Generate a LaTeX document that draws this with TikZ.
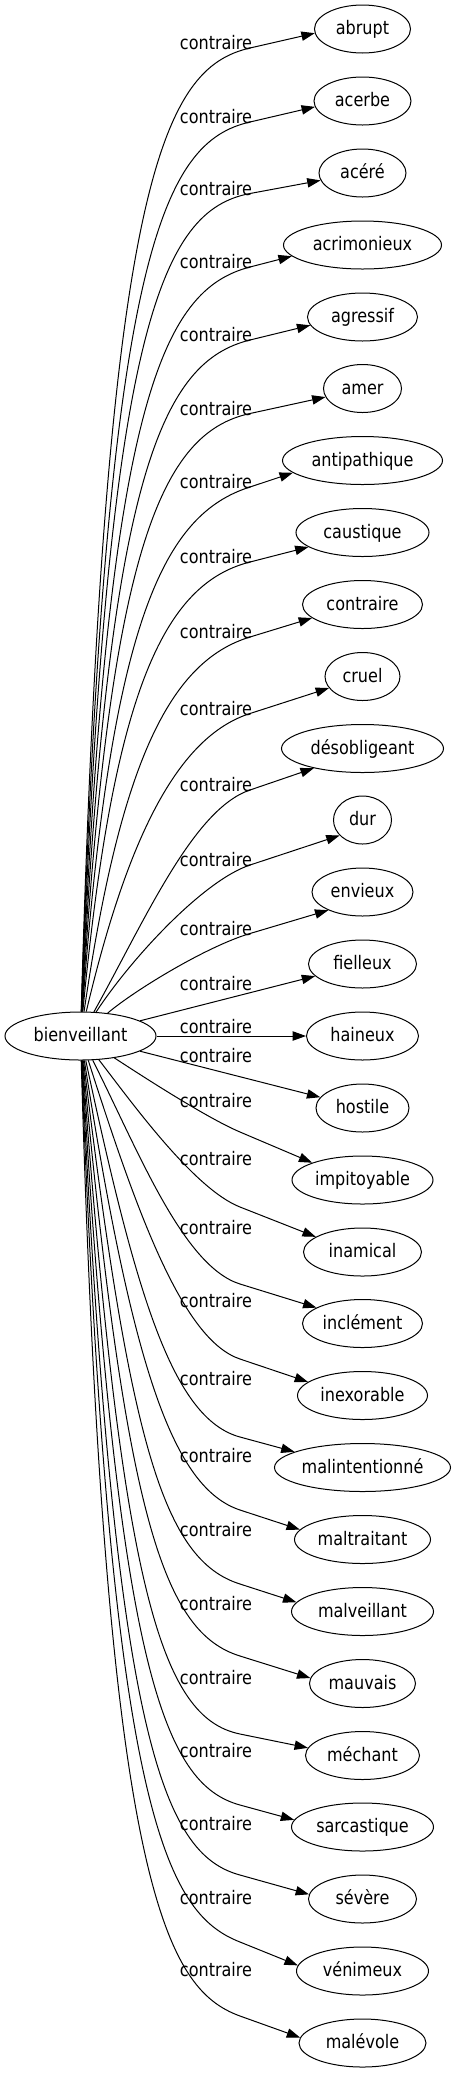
\documentclass[tikz,border=0pt]{standalone}
\usepackage{fontspec}
\setmainfont{DejaVu Sans}[FakeStretch=0.86]
\usetikzlibrary{arrows.meta, shapes.geometric}

\begin{document}
\begin{tikzpicture}[
	x=0.75pt, y=-0.75pt,
	w/.style = {ellipse, draw=black, line width=0.75pt, inner sep=0pt, minimum height=36pt,
		text height=10.6pt, text depth=2.2pt, font=\fontsize{14}{17}\selectfont},
	lb/.style = {inner sep=0pt, text height=10.6pt, text depth=2.2pt, font=\fontsize{14}{17}\selectfont},
	r/.style = {-{Triangle[length=10pt, width=7pt]}, line width=0.75pt}
	]
	\useasboundingbox (0,0) rectangle (462,2075);

	%Nodes
	\node[w, minimum width=113.25pt]	(b)					at	(80.5, 1036)	{bienveillant};
	\node[w, minimum width=72pt]		(abrupt)			at	(362.5, 29)		{abrupt};
	\node[w, minimum width=72.75pt]		(acerbe)			at	(362.5, 101)	{acerbe};
	\node[w, minimum width=65.25pt]		(acere)				at	(362.5, 173)	{acéré};
	\node[w, minimum width=118.5pt]		(acrimonieux)		at	(362.5, 245)	{acrimonieux};
	\node[w, minimum width=82.5pt]		(agressif)			at	(362.5, 317)	{agressif};
	\node[w, minimum width=58.5pt]		(amer)				at	(362.5, 388.5)	{amer};
	\node[w, minimum width=120pt]		(antipathique)		at	(362.5, 460.5)	{antipathique};
	\node[w, minimum width=99.75pt]		(caustique)			at	(362.5, 532.5)	{caustique};
	\node[w, minimum width=90pt]		(contraire)			at	(362.5, 604.5)	{contraire};
	\node[w, minimum width=56.25pt]		(cruel)				at	(362.5, 676.5)	{cruel};
	\node[w, minimum width=121.5pt]		(desobligeant)		at	(362.5, 748.5)	{désobligeant};
	\node[w, minimum width=43.5pt]		(dur)				at	(362.5, 820)	{dur};
	\node[w, minimum width=75.75pt]		(envieux)			at	(362.5, 892)	{envieux};
	\node[w, minimum width=81pt]		(fielleux)			at	(362.5, 964)	{fielleux};
	\node[w, minimum width=84pt]		(haineux)			at	(362.5, 1036)	{haineux};
	\node[w, minimum width=69.75pt]		(hostile)			at	(362.5, 1108)	{hostile};
	\node[w, minimum width=105.75pt]	(impitoyable)		at	(362.5, 1180)	{impitoyable};
	\node[w, minimum width=88.5pt]		(inamical)			at	(362.5, 1252)	{inamical};
	\node[w, minimum width=90pt]		(inclement)			at	(362.5, 1323.5)	{inclément};
	\node[w, minimum width=97.5pt]		(inexorable)		at	(362.5, 1395.5)	{inexorable};
	\node[w, minimum width=132pt]		(malintentionne)	at	(362.5, 1467.5)	{malintentionné};
	\node[w, minimum width=102pt]		(maltraitant)		at	(362.5, 1539.5)	{maltraitant};
	\node[w, minimum width=106.5pt]		(malveillant)		at	(362.5, 1611.5)	{malveillant};
	\node[w, minimum width=79.5pt]		(mauvais)			at	(362.5, 1683.5)	{mauvais};
	\node[w, minimum width=85.5pt]		(mechant)			at	(362.5, 1755.5)	{méchant};
	\node[w, minimum width=106.5pt]		(sarcastique)		at	(362.5, 1827)	{sarcastique};
	\node[w, minimum width=81pt]		(severe)			at	(362.5, 1899)	{sévère};
	\node[w, minimum width=99pt]		(venimeux)			at	(362.5, 1971)	{vénimeux};
	\node[w, minimum width=95.25pt]		(malevole)			at	(362.5, 2043)	{malévole};

	%Labels
	\node[lb]	(c-abrupt)			at	(216, 44)		{contraire};
	\node[lb]	(c-acerbe)			at	(216, 118)		{contraire};
	\node[lb]	(c-acere)			at	(216, 189.5)	{contraire};
	\node[lb]	(c-acrimonieux)		at	(216, 263)		{contraire};
	\node[lb]	(c-agressif)		at	(216, 336)		{contraire};
	\node[lb]	(c-amer)			at	(216, 409.5)	{contraire};
	\node[lb]	(c-antipathique)	at	(216, 483)		{contraire};
	\node[lb]	(c-caustique)		at	(216, 558)		{contraire};
	\node[lb]	(c-contraire)		at	(216, 633)		{contraire};
	\node[lb]	(c-cruel)			at	(216, 709.5)	{contraire};
	\node[lb]	(c-desobligeant)	at	(216, 786)		{contraire};
	\node[lb]	(c-dur)				at	(216, 861)		{contraire};
	\node[lb]	(c-envieux)			at	(216, 929.5)	{contraire};
	\node[lb]	(c-fielleux)		at	(216, 984.5)	{contraire};
	\node[lb]	(c-haineux)			at	(216, 1028)		{contraire};
	\node[lb]	(c-hostile)			at	(216, 1057)		{contraire};
	\node[lb]	(c-impitoyable)		at	(216, 1102)		{contraire};
	\node[lb]	(c-inamical)		at	(216, 1160)		{contraire};
	\node[lb]	(c-inclement)		at	(216, 1229)		{contraire};
	\node[lb]	(c-inexorable)		at	(216, 1302)		{contraire};
	\node[lb]	(c-malintentionne)	at	(216, 1380)		{contraire};
	\node[lb]	(c-maltraitant)		at	(216, 1457)		{contraire};
	\node[lb]	(c-malveillant)		at	(216, 1531)		{contraire};
	\node[lb]	(c-mauvais)			at	(216, 1605)		{contraire};
	\node[lb]	(c-mechant)			at	(216, 1679)		{contraire};
	\node[lb]	(c-sarcastique)		at	(216, 1752)		{contraire};
	\node[lb]	(c-severe)			at	(216, 1825)		{contraire};
	\node[lb]	(c-venimeux)		at	(216, 1899)		{contraire};
	\node[lb]	(c-malevole)		at	(216, 1971)		{contraire};

	%Lines
	\draw[r]	(b)	.. controls (105, 180) and (162.3, 68.2) .. (250, 48)			--	(abrupt.185);
	\draw[r]	(b)	.. controls (106, 254) and (162.3, 142.1) .. (250, 122)		--	(acerbe.187);
	\draw[r]	(b)	.. controls (107, 325.5) and (161.6, 210.3) .. (250, 193.5)	--	(acere.190);
	\draw[r]	(b)	.. controls (108, 399) and (162.9, 289.7) .. (250, 267)		--	(acrimonieux.189);
	\draw[r]	(b)	.. controls (109, 472) and (162.6, 361.6) .. (250, 340)		--	(agressif.189);
	\draw[r]	(b)	.. controls (110, 545.5) and (162.1, 432.6) .. (250, 413.5)	--	(amer.193);
	\draw[r]	(b)	.. controls (111, 619) and (164.2, 514.2) .. (250, 487)		--	(antipathique.190);
	\draw[r]	(b)	.. controls (113, 694) and (162.8, 584) .. (250, 562)			--	(caustique.195);
	\draw[r]	(b)	.. controls (120, 765) and (168.7, 661.6) .. (250, 637)		--	(contraire.195);
	\draw[r]	(b)	.. controls (128, 835) and (178.6, 736.4) .. (250, 713.5)		--	(cruel.199);
	\draw[r]	(b)	.. controls (145, 920) and (193.1, 809.1) .. (250, 790)		--	(desobligeant.202);
	\draw[r]	(b)	.. controls (130, 960) and (202.6, 880.8) .. (250, 865)		--	(dur.214);
	\draw[r]	(b)	.. controls (135, 990) and (206.8, 946.3) .. (250, 933.5)		--	(envieux.208);
	\draw[r]	(b)	--	(fielleux);
	\draw[r]	(b)	--	(haineux);
	\draw[r]	(b)	--	(hostile);
	\draw[r]	(b)	.. controls (130, 1068) and (203.2, 1116.3) .. (240, 1132)		--	(impitoyable.161);
	\draw[r]	(b)	.. controls (130, 1100) and (193.4, 1188.7) .. (240, 1207)		--	(inamical.162);
	\draw[r]	(b)	.. controls (138, 1150) and (182.8, 1266.1) .. (240, 1284)		--	(inclement.161);
	\draw[r]	(b)	.. controls (138, 1216) and (183.1, 1340) .. (240, 1359)		--	(inexorable.166);
	\draw[r]	(b)	.. controls (136, 1294) and (172.4, 1418.7) .. (240, 1437)		--	(malintentionne.167);
	\draw[r]	(b)	.. controls (133, 1371) and (173.6, 1487.9) .. (240, 1510)		--	(maltraitant.171);
	\draw[r]	(b)	.. controls (130, 1445) and (163.7, 1560) .. (240, 1584)		--	(malveillant.172);
	\draw[r]	(b)	.. controls (126, 1519) and (163.6, 1632.3) .. (240, 1656)		--	(mauvais.174);
	\draw[r]	(b)	.. controls (122, 1593) and (161.6, 1717.9) .. (240, 1734)		--	(mechant.172);
	\draw[r]	(b)	.. controls (118, 1666) and (162.8, 1783.8) .. (240, 1805)		--	(sarcastique.174);
	\draw[r]	(b)	.. controls (114, 1739) and (162.8, 1854) .. (240, 1875)		--	(severe.175);
	\draw[r]	(b)	.. controls (110, 1813) and (165.6, 1912.8) .. (240, 1942)		--	(venimeux.175);
	\draw[r]	(b)	.. controls (105, 1885) and (164.9, 1988.6) .. (240, 2016)		--	(malevole.175);

\end{tikzpicture}
\end{document}
